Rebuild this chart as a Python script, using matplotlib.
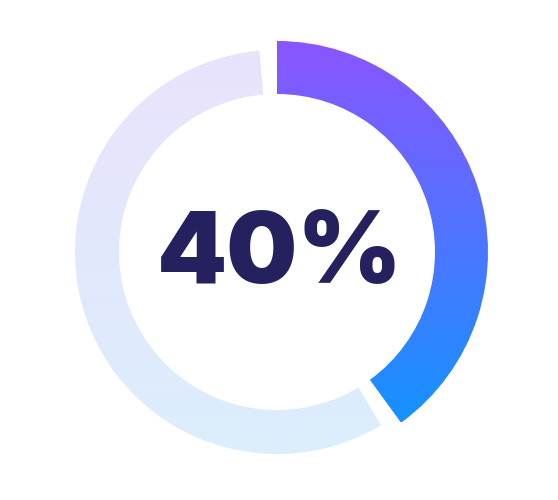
import numpy as np
import matplotlib.pyplot as plt
from matplotlib.patches import Wedge
from matplotlib.colors import LinearSegmentedColormap

'''
Data
'''
value = 40          # Prozent
rest = 100 - value
label = '40%'

progress_colors = ['#8B55FF', '#1592FF']   # oben -> unten
track_colors = ['#E9E3FC', '#DCEEFC']

'''
Geometry (pixel coordinates)
'''
cx, cy = 277, 252
r_in = 158
r_prog = 211
r_track = 202
gap = 5  # Grad

start = 90
end = start - 360 * value / 100

fig = plt.figure(figsize=(5.58, 5.0), dpi=100)
ax = fig.add_axes([0, 0, 1, 1])
ax.set_xlim(0, 558)
ax.set_ylim(500, 0)
ax.set_aspect('equal')
ax.axis('off')

# y is inverted, so angles are mirrored: use negative angles
def wedge(r, a1, a2):
    # a1, a2 in normal math angles (counterclockwise from +x, y up)
    w = Wedge((cx, cy), r, -a2, -a1, width=r - r_in, facecolor='none', edgecolor='none')
    ax.add_patch(w)
    return w

grad = np.linspace(0, 1, 256).reshape(-1, 1)

# track (rest)
w_track = wedge(r_track, start + gap, end - gap + 360)
cm_track = LinearSegmentedColormap.from_list('track', track_colors)
im = ax.imshow(grad, cmap=cm_track, aspect='auto',
               extent=[cx - r_track, cx + r_track, cy + r_track, cy - r_track])
im.set_clip_path(w_track)

# progress
w_prog = wedge(r_prog, end, start)
cm_prog = LinearSegmentedColormap.from_list('prog', progress_colors)
im2 = ax.imshow(grad, cmap=cm_prog, aspect='auto',
                extent=[cx - r_prog, cx + r_prog, cy + 170, cy - r_prog])
im2.set_clip_path(w_prog)

ax.set_xlim(0, 558)
ax.set_ylim(500, 0)

ax.text(280, 257, label, ha='center', va='center', fontsize=72,
        fontfamily='Inter', fontweight='black', color='#25215F')

fig.savefig('out.png', dpi=100, facecolor='white')
